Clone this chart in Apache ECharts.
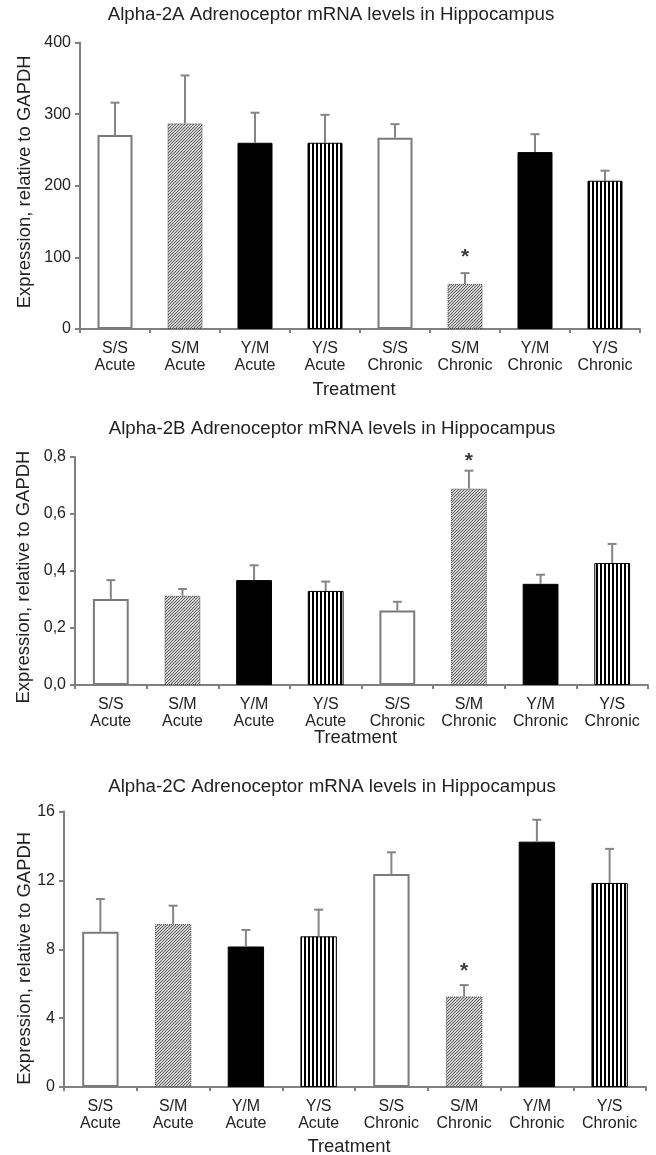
<!DOCTYPE html>
<html>
<head>
<meta charset="utf-8">
<script src="https://cdn.jsdelivr.net/npm/echarts@6/dist/echarts.min.js"></script>
<style>
html,body{margin:0;padding:0;background:#fff;}
#c{width:656px;height:1155px;}
</style>
</head>
<body>
<div id="c"></div>
<script>
// ---------- data ----------
const categories = ['S/S\nAcute','S/M\nAcute','Y/M\nAcute','Y/S\nAcute','S/S\nChronic','S/M\nChronic','Y/M\nChronic','Y/S\nChronic'];

const titles = [
  'Alpha-2A Adrenoceptor mRNA levels in Hippocampus',
  'Alpha-2B Adrenoceptor mRNA levels in Hippocampus',
  'Alpha-2C Adrenoceptor mRNA levels in Hippocampus'
];

const a2aMean  = [271, 287, 260, 260, 267, 63, 247, 207];
const a2aUpper = [316, 354, 302, 299, 286, 78, 272, 221];
const a2aTicks = [0, 100, 200, 300, 400];
const a2aStar  = [5, 106];

const a2bMean  = [0.302, 0.313, 0.368, 0.330, 0.261, 0.689, 0.355, 0.428];
const a2bUpper = [0.368, 0.337, 0.420, 0.363, 0.292, 0.752, 0.387, 0.495];
const a2bTicks = [0, 0.2, 0.4, 0.6, 0.8];
const a2bStar  = [5, 0.80];

const a2cMean  = [9.02, 9.46, 8.16, 8.75, 12.37, 5.26, 14.25, 11.85];
const a2cUpper = [10.92, 10.53, 9.12, 10.30, 13.63, 5.92, 15.52, 13.83];
const a2cTicks = [0, 4, 8, 12, 16];
const a2cStar  = [5, 6.98];

const xName = 'Treatment';
const yName = 'Expression, relative to GAPDH';

// ---------- styles ----------
const FONT = '"Liberation Sans", Arial, Helvetica, sans-serif';
const TXT = '#222';
const AX = '#808080';

function makeHatch(){
  const c = document.createElement('canvas');
  c.width = 6; c.height = 6;
  const x = c.getContext('2d');
  x.fillStyle = '#ffffff'; x.fillRect(0,0,6,6);
  x.strokeStyle = '#5a5a5a'; x.lineWidth = 1.1;
  x.beginPath();
  for (let k = -6; k <= 12; k += 3){ x.moveTo(k, 6); x.lineTo(k + 6, 0); }
  x.stroke();
  return c;
}
function makeStripes(){
  const c = document.createElement('canvas');
  c.width = 4; c.height = 4;
  const x = c.getContext('2d');
  x.fillStyle = '#ffffff'; x.fillRect(0,0,4,4);
  x.fillStyle = '#000000'; x.fillRect(0,0,2,4);
  return c;
}
const hatchImg = makeHatch();
const stripeImg = makeStripes();

const barStyles = [
  {color:'#ffffff', borderColor:'#7a7a7a', borderWidth:2},
  {color:{image:hatchImg, repeat:'repeat'}, borderColor:'#444', borderWidth:1, borderType:'dotted'},
  {color:'#000000', borderColor:'#000000', borderWidth:1},
  {color:{image:stripeImg, repeat:'repeat'}, borderColor:'#000000', borderWidth:1}
];

const panels = [
  {mean:a2aMean, upper:a2aUpper, ticks:a2aTicks, star:a2aStar, dec:0,
   grid:{left:80, top:42.5, width:560, height:286.5},
   title:{x:331, top:5.5}, yGap:45.5, yPad:[0,0,0,8], xGap:52},
  {mean:a2bMean, upper:a2bUpper, ticks:a2bTicks, star:a2bStar, dec:1,
   grid:{left:75, top:457, width:573, height:228},
   title:{x:332, top:419}, yGap:42, yPad:[0,12,0,0], xGap:44},
  {mean:a2cMean, upper:a2cUpper, ticks:a2cTicks, star:a2cStar, dec:0,
   grid:{left:64, top:811.5, width:582, height:275.5},
   title:{x:332, top:777}, yGap:29.5, yPad:[0,18,0,0], xGap:51}
];

const option = {
  animation:false,
  backgroundColor:'#ffffff',
  textStyle:{fontFamily:FONT},
  title:[], grid:[], xAxis:[], yAxis:[], series:[]
};

panels.forEach((p, g) => {
  option.title.push({
    text: titles[g], left: p.title.x, top: p.title.top, textAlign:'center', padding:0,
    textStyle:{fontFamily:FONT, fontSize:18.7, fontWeight:'normal', color:TXT}
  });
  option.grid.push(Object.assign({containLabel:false, outerBoundsMode:'none'}, p.grid));
  option.xAxis.push({
    type:'category', gridIndex:g, data:categories,
    axisLine:{show:true, lineStyle:{color:AX, width:2}},
    axisTick:{show:true, length:4, lineStyle:{color:AX, width:2}},
    axisLabel:{interval:0, color:TXT, fontFamily:FONT, fontSize:16, lineHeight:17, margin:11},
    splitLine:{show:false},
    name:xName, nameLocation:'middle', nameGap:p.xGap, nameMoveOverlap:false,
    nameTextStyle:{fontFamily:FONT, fontSize:18.4, color:TXT, padding:[0,12,0,0]}
  });
  const t = p.ticks;
  option.yAxis.push({
    type:'value', gridIndex:g, min:t[0], max:t[t.length-1], interval:t[1]-t[0],
    axisLine:{show:true, lineStyle:{color:AX, width:2}},
    axisTick:{show:true, length:5, lineStyle:{color:AX, width:2}},
    splitLine:{show:false},
    axisLabel:{color:TXT, fontFamily:FONT, fontSize:16, margin:9,
      formatter: v => p.dec ? v.toFixed(p.dec).replace('.', ',') : String(v)},
    name:yName, nameLocation:'middle', nameGap:p.yGap, nameMoveOverlap:false,
    nameTextStyle:{fontFamily:FONT, fontSize:18.5, color:TXT, padding:p.yPad}
  });
  option.series.push({
    type:'bar', xAxisIndex:g, yAxisIndex:g, barWidth:'50%', z:2,
    data: p.mean.map((v, i) => ({value:v, itemStyle:barStyles[i % 4]}))
  });
  option.series.push({
    type:'custom', xAxisIndex:g, yAxisIndex:g, z:5, silent:true,
    data: p.mean.map((m, i) => [i, m, p.upper[i]]),
    encode:{x:0, y:[1,2]},
    renderItem: (params, api) => {
      const a = api.coord([api.value(0), api.value(1)]);
      const b = api.coord([api.value(0), api.value(2)]);
      const s = {stroke:'#858585', lineWidth:2};
      return {type:'group', children:[
        {type:'line', shape:{x1:a[0], y1:a[1], x2:b[0], y2:b[1]}, style:s},
        {type:'line', shape:{x1:b[0]-4.5, y1:b[1], x2:b[0]+4.5, y2:b[1]}, style:s}
      ]};
    }
  });
  option.series.push({
    type:'custom', xAxisIndex:g, yAxisIndex:g, z:6, silent:true,
    data:[p.star],
    encode:{x:0, y:1},
    renderItem: (params, api) => {
      const c = api.coord([api.value(0), api.value(1)]);
      return {type:'text', x:c[0], y:c[1] + 4,
        style:{text:'*', fontFamily:FONT, fontSize:21, fontWeight:'bold', fill:'#3a3a3a', align:'center', verticalAlign:'middle'}};
    }
  });
});

const chart = echarts.init(document.getElementById('c'), null, {renderer:'canvas'});
chart.setOption(option);
</script>
</body>
</html>
